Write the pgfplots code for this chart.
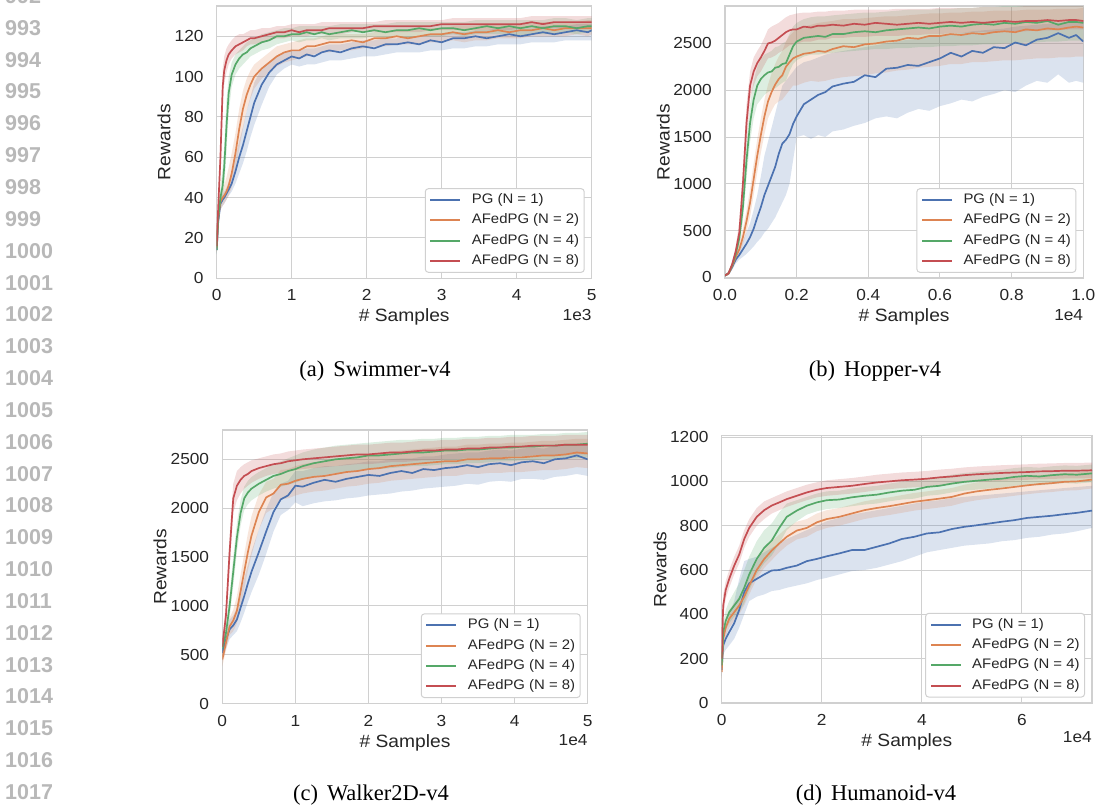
\documentclass[border=0pt]{standalone}
\usepackage{fontspec}
\setmainfont[FakeStretch=1.08, Color=262626]{Liberation Sans}
\newfontfamily\capfont{Liberation Serif}
\newfontfamily\lnfont[Color=B8B8B8]{Liberation Sans}
\usepackage{pgfplots}
\usepackage{pgfplotstable}
\pgfplotsset{compat=1.18}
\usepgfplotslibrary{fillbetween}

\definecolor{sblue}{HTML}{4C72B0}
\definecolor{sorange}{HTML}{DD8452}
\definecolor{sgreen}{HTML}{55A868}
\definecolor{sred}{HTML}{C44E52}
\definecolor{gridc}{HTML}{D0D0D0}

% columns: samples, then mean / lower / upper for N = 1, 2, 4, 8
\pgfplotstableread{
x    b   bl  bh  o   ol  oh  g   gl  gh  r   rl  rh
0.00 14  12  17  15  13  18  14  12  17  16  13  19
0.02 28  25  32  30  26  34  30  26  34  35  30  40
0.05 37  34  40  38  34  42  40  36  45  60  52  70
0.08 39  36  42  40  36  44  46  40  55  95  85  104
0.10 40  37  43  41  37  46  55  45  66  103 96  110
0.13 42  39  45  43  39  50  75  62  88  108 102 114
0.16 44  41  48  46  41  55  92  82  100 111 106 116
0.20 47  43  52  52  45  62  101 95  107 113 109 118
0.25 53  47  60  62  54  72  106 101 111 115 111 120
0.30 60  52  68  74  64  84  109 104 113 116 112 121
0.35 66  57  75  84  74  93  111 106 115 117 113 121
0.40 73  63  83  91  83  99  112 108 117 118 115 122
0.45 80  70  90  96  89  103 114 110 118 119 116 123
0.50 87  76  97  100 94  106 115 111 119 119 116 123
0.60 96  86  104 104 99  109 117 113 121 120 117 124
0.70 102 95  107 107 102 112 118 114 122 121 118 124
0.80 106 101 110 110 105 115 120 116 123 122 119 125
0.90 108 104 112 112 107 116 120 117 124 122 119 125
1.00 110 106 113 113 108 117 121 118 124 123 120 126
1.10 109 105 113 113 109 118 121 117 125 122 120 126
1.20 111 106 114 115 110 119 122 118 125 123 120 126
1.30 110 106 114 115 111 119 121 118 125 123 121 126
1.40 112 107 115 116 112 120 122 119 125 123 121 127
1.50 113 108 116 117 112 121 121 118 125 124 121 127
1.65 112 108 116 117 113 121 122 119 126 124 121 127
1.80 114 109 117 118 113 121 123 119 126 124 122 127
1.95 115 110 118 117 114 121 122 119 126 124 122 127
2.10 114 110 118 119 115 122 123 120 126 125 122 127
2.25 116 111 119 119 115 122 122 119 126 125 122 128
2.40 116 112 119 120 116 123 123 120 127 125 122 128
2.55 117 112 120 119 116 123 123 119 127 125 122 128
2.70 116 112 120 120 116 124 124 120 127 125 122 128
2.85 118 113 121 121 117 124 123 120 127 125 123 128
3.00 117 113 121 121 117 124 124 120 127 126 123 128
3.15 119 114 122 122 118 125 124 121 127 126 123 129
3.30 119 114 122 121 117 125 123 120 127 126 123 129
3.45 120 115 123 122 118 125 124 121 128 126 123 129
3.60 119 115 123 122 118 126 125 121 128 126 123 129
3.75 120 116 124 123 119 126 124 121 128 126 123 129
3.90 121 116 124 122 119 126 125 121 128 126 123 129
4.05 120 116 124 123 119 126 124 120 128 126 124 129
4.20 121 117 124 123 120 127 125 121 128 127 124 130
4.35 122 117 125 124 120 127 124 121 128 126 124 130
4.50 121 117 125 123 120 127 125 121 129 127 124 130
4.65 122 118 125 124 120 127 125 122 129 127 124 130
4.80 123 118 126 124 121 127 124 121 128 127 124 130
4.95 122 118 126 124 120 128 125 122 129 127 124 130
5.00 123 118 126 124 121 128 125 122 129 127 124 130
}\swim

\pgfplotstableread{
x    b    bl   bh   o    ol   oh   g    gl   gh   r    rl   rh
0.00 20   10   30   20   10   30   20   10   30   20   10   30
0.01 40   25   55   40   25   55   45   30   60   45   30   60
0.02 110  80   140  120  90   150  130  100  160  140  110  170
0.03 190  150  230  220  180  260  250  210  300  280  230  330
0.04 240  190  300  300  250  370  420  340  520  480  380  600
0.05 300  220  390  430  350  520  750  600  900  1000 850  1150
0.06 360  250  480  600  480  720  1250 1050 1450 1650 1450 1850
0.07 430  290  580  800  650  950  1650 1450 1850 2050 1900 2200
0.08 520  330  720  1050 880  1220 1900 1700 2100 2200 2050 2350
0.09 640  380  880  1300 1120 1480 2050 1850 2250 2290 2150 2420
0.10 750  420  1080 1520 1330 1700 2120 1900 2330 2350 2200 2480
0.11 880  480  1300 1720 1530 1900 2160 1950 2380 2420 2270 2560
0.12 980  520  1450 1880 1700 2060 2190 1980 2400 2500 2340 2650
0.13 1080 580  1600 1980 1780 2180 2200 2000 2420 2510 2350 2680
0.14 1180 640  1750 2060 1850 2280 2240 2020 2460 2530 2370 2700
0.15 1320 720  1900 2120 1880 2360 2250 2050 2470 2560 2400 2720
0.16 1430 800  2050 2160 1900 2420 2280 2080 2500 2590 2420 2750
0.17 1470 880  2100 2250 1950 2520 2290 2100 2520 2620 2450 2780
0.18 1530 1000 2150 2300 2000 2580 2380 2200 2600 2640 2480 2800
0.19 1640 1250 2200 2340 2050 2620 2470 2280 2680 2650 2490 2810
0.20 1720 1500 2250 2360 2050 2650 2520 2320 2720 2650 2500 2820
0.22 1850 1520 2300 2390 2080 2680 2560 2360 2760 2680 2520 2830
0.24 1900 1480 2320 2400 2100 2700 2570 2380 2780 2670 2520 2830
0.26 1950 1520 2350 2420 2090 2720 2580 2380 2790 2690 2540 2840
0.28 1980 1500 2380 2410 2100 2730 2570 2390 2790 2690 2540 2840
0.30 2040 1560 2400 2440 2120 2740 2600 2400 2800 2700 2560 2850
0.33 2070 1580 2420 2470 2140 2760 2600 2410 2810 2690 2560 2850
0.36 2090 1620 2440 2460 2150 2760 2620 2420 2820 2710 2570 2860
0.39 2160 1650 2460 2490 2160 2770 2630 2430 2830 2700 2570 2860
0.42 2140 1700 2480 2500 2180 2780 2620 2440 2830 2720 2580 2860
0.45 2230 1720 2500 2520 2190 2790 2640 2440 2840 2710 2580 2860
0.48 2240 1700 2520 2530 2210 2790 2650 2450 2850 2700 2580 2870
0.51 2270 1760 2540 2560 2220 2800 2660 2450 2860 2710 2590 2870
0.54 2260 1800 2550 2550 2240 2810 2670 2460 2860 2720 2590 2870
0.57 2300 1780 2570 2580 2250 2820 2660 2460 2860 2710 2600 2870
0.60 2340 1830 2580 2580 2260 2820 2680 2470 2870 2720 2600 2880
0.63 2400 1860 2600 2600 2280 2830 2690 2470 2870 2730 2610 2880
0.66 2360 1900 2610 2590 2280 2830 2680 2480 2880 2720 2610 2880
0.69 2420 1880 2630 2610 2300 2840 2700 2480 2880 2730 2620 2880
0.72 2400 1930 2640 2600 2300 2840 2710 2490 2890 2720 2620 2890
0.75 2460 1960 2650 2620 2310 2850 2700 2490 2890 2730 2620 2890
0.78 2450 2000 2660 2630 2320 2850 2720 2500 2900 2740 2630 2890
0.81 2510 1980 2680 2620 2320 2850 2710 2500 2900 2730 2630 2890
0.84 2480 2050 2690 2650 2330 2860 2730 2510 2900 2740 2630 2900
0.87 2540 2100 2700 2640 2340 2860 2720 2510 2900 2740 2640 2900
0.90 2560 2080 2710 2660 2340 2860 2740 2520 2910 2750 2640 2900
0.93 2610 2170 2720 2650 2350 2870 2700 2520 2910 2740 2640 2900
0.96 2560 2080 2730 2670 2350 2870 2730 2530 2910 2750 2650 2910
0.98 2590 2100 2730 2680 2360 2870 2730 2530 2910 2750 2650 2910
1.00 2520 2080 2740 2670 2360 2880 2720 2530 2920 2740 2650 2910
}\hopper

\pgfplotstableread{
x    b    bl   bh   o    ol   oh   g    gl   gh   r    rl   rh
0.00 520  440  600  450  380  520  560  480  640  580  500  660
0.05 650  560  740  620  540  700  720  640  800  900  780  1020
0.10 760  660  860  790  700  880  1000 880  1120 1550 1380 1720
0.15 800  700  900  850  740  960  1350 1200 1500 2100 1950 2250
0.20 860  740  980  950  820  1100 1700 1550 1850 2230 2080 2380
0.25 980  830  1140 1150 980  1320 1950 1820 2080 2290 2150 2420
0.30 1100 930  1280 1350 1170 1530 2100 1980 2220 2330 2200 2450
0.35 1230 1040 1420 1550 1360 1740 2160 2040 2280 2350 2230 2470
0.40 1350 1140 1560 1720 1520 1920 2200 2080 2320 2380 2260 2490
0.50 1550 1320 1780 1960 1780 2140 2250 2130 2370 2410 2300 2510
0.60 1760 1530 1990 2110 1950 2270 2290 2170 2410 2430 2330 2530
0.70 1960 1760 2160 2150 2000 2300 2330 2200 2450 2450 2350 2550
0.80 2090 1930 2250 2240 2090 2390 2350 2220 2480 2460 2360 2560
0.90 2130 1980 2280 2250 2100 2400 2380 2240 2510 2480 2380 2580
1.00 2230 2060 2380 2280 2130 2430 2400 2260 2540 2490 2390 2590
1.10 2220 2020 2380 2300 2150 2450 2430 2290 2570 2500 2400 2600
1.25 2260 2050 2410 2320 2170 2470 2460 2320 2600 2510 2410 2610
1.40 2290 2070 2430 2330 2180 2480 2480 2340 2620 2520 2420 2620
1.55 2270 2080 2430 2350 2200 2500 2500 2360 2640 2530 2430 2630
1.70 2300 2100 2450 2370 2220 2520 2510 2370 2650 2540 2440 2640
1.85 2320 2110 2460 2380 2230 2530 2520 2380 2660 2550 2450 2650
2.00 2340 2130 2480 2400 2250 2550 2540 2400 2670 2550 2450 2650
2.15 2330 2140 2480 2410 2260 2560 2540 2400 2680 2560 2460 2660
2.30 2360 2150 2500 2430 2280 2580 2550 2410 2690 2570 2470 2670
2.45 2380 2170 2510 2440 2290 2590 2560 2420 2700 2570 2470 2670
2.60 2360 2180 2510 2450 2300 2600 2570 2430 2700 2580 2480 2680
2.75 2400 2200 2530 2460 2310 2610 2570 2430 2710 2590 2490 2690
2.90 2390 2210 2530 2470 2320 2620 2580 2440 2710 2590 2490 2690
3.05 2410 2220 2550 2480 2330 2630 2590 2450 2720 2600 2500 2700
3.20 2420 2230 2560 2480 2330 2630 2590 2450 2720 2600 2500 2700
3.35 2440 2250 2570 2500 2350 2650 2600 2460 2730 2610 2510 2710
3.50 2420 2240 2570 2500 2350 2650 2600 2460 2730 2610 2510 2710
3.65 2450 2270 2590 2510 2360 2660 2610 2470 2740 2620 2520 2720
3.80 2460 2280 2600 2510 2360 2660 2620 2480 2740 2620 2520 2720
3.95 2440 2270 2590 2520 2370 2670 2620 2480 2750 2630 2530 2730
4.10 2470 2300 2610 2520 2370 2670 2630 2490 2750 2630 2530 2730
4.25 2480 2300 2620 2530 2380 2680 2630 2490 2750 2640 2540 2740
4.40 2460 2290 2610 2540 2390 2690 2640 2500 2760 2640 2540 2740
4.55 2500 2320 2640 2540 2390 2690 2640 2500 2760 2640 2540 2740
4.70 2510 2330 2650 2550 2400 2700 2650 2510 2770 2650 2550 2750
4.85 2540 2350 2660 2570 2420 2710 2650 2510 2770 2650 2550 2750
5.00 2500 2330 2650 2560 2410 2710 2660 2520 2780 2650 2550 2750
}\walker

\pgfplotstableread{
x    b    bl   bh   o    ol   oh   g    gl   gh   r    rl   rh
0.00 150  120  180  140  110  170  170  140  200  200  160  240
0.03 260  220  300  290  250  330  320  280  360  440  390  490
0.08 290  240  340  340  300  380  370  330  420  510  470  550
0.15 320  260  400  380  340  420  410  360  460  560  520  600
0.25 360  290  460  410  370  450  440  390  500  620  580  660
0.35 420  340  560  440  400  480  470  410  540  670  630  710
0.45 500  400  640  480  440  520  520  450  600  740  700  780
0.55 540  460  650  530  490  570  580  510  660  790  750  830
0.70 560  480  660  600  560  640  650  580  730  840  800  880
0.85 580  490  680  650  610  690  700  630  780  870  830  910
1.00 598  505  700  688  645  730  733  665  810  891  855  925
1.15 600  510  720  720  680  760  790  720  860  905  870  940
1.30 610  520  740  750  710  790  840  780  900  920  885  955
1.50 620  530  760  778  738  818  868  820  915  935  900  970
1.70 640  540  780  790  750  830  890  850  930  950  915  985
1.90 650  555  800  815  775  855  905  865  945  962  928  996
2.10 662  565  820  830  790  870  915  875  955  970  935  1005
2.35 675  580  835  840  800  880  918  880  958  975  940  1010
2.60 690  595  850  855  815  895  928  888  968  980  945  1015
2.85 690  600  860  870  830  910  935  895  975  988  952  1022
3.10 705  610  870  880  840  920  940  900  980  995  960  1030
3.35 720  625  880  888  848  928  950  910  990  1000 965  1035
3.60 740  640  890  898  858  938  958  918  998  1005 970  1040
3.85 750  660  900  908  868  948  962  922  1002 1008 973  1043
4.10 765  680  910  915  875  955  975  935  1015 1012 977  1047
4.35 770  690  915  922  882  962  980  940  1020 1018 983  1053
4.60 785  700  925  930  890  970  990  950  1030 1022 987  1057
4.85 795  710  930  945  905  985  998  958  1038 1028 993  1063
5.10 802  715  935  955  915  995  1003 963  1043 1032 997  1067
5.35 810  720  940  962  922  1002 1008 968  1048 1035 1000 1070
5.60 818  730  945  968  928  1008 1012 972  1052 1038 1003 1073
5.85 825  735  950  975  935  1015 1020 980  1060 1040 1005 1075
6.10 835  745  955  982  942  1022 1025 985  1065 1042 1007 1077
6.35 840  750  960  988  948  1028 1022 982  1062 1045 1010 1080
6.60 845  760  965  992  952  1032 1028 988  1068 1046 1011 1081
6.85 852  765  970  998  958  1038 1032 992  1072 1048 1013 1083
7.10 858  775  975  1000 960  1040 1030 990  1070 1048 1013 1083
7.40 868  790  980  1008 968  1048 1036 996  1076 1050 1015 1085
}\humanoid

\pgfplotsset{
  sns/.style={
    scale only axis, anchor=south west,
    axis line style={draw=gridc, line width=1.3pt},
    grid=major, major grid style={draw=gridc, line width=1pt},
    major tick length=0pt, tick style={draw=none},
    ticklabel style={font=\fontsize{16}{18}\selectfont, inner sep=0pt},
    xticklabel style={anchor=base, yshift=-22.5pt},
    yticklabel style={anchor=east, xshift=-13pt},
    label style={font=\fontsize{17.8}{20}\selectfont},
    xlabel={\# Samples}, ylabel={Rewards},
    xlabel style={at={(axis description cs:0.5,0)}, anchor=base, yshift=-43.5pt},
    /pgf/number format/assume math mode=true,
    /pgf/number format/1000 sep={},
    scaled ticks=false,
    clip mode=individual,
    no markers,
    legend cell align=left,
    legend style={at={(rel axis cs:1,0)}, anchor=south east, xshift=-7pt, yshift=5.5pt,
      draw=gridc, line width=1pt, rounded corners=3pt, fill=white,
      font=\fontsize{13.8}{16}\selectfont,
      inner xsep=5pt, inner ysep=5pt, row sep=7.2pt,
      nodes={inner sep=0pt, text height=10pt, text depth=3pt},
      /tikz/every odd column/.append style={column sep=11.6pt}},
    legend image code/.code={%
      \fill[#1, draw=none, rounded corners=0pt] (0pt,-1pt) rectangle (30pt,1pt);},
  },
  mline/.style={line width=1.7pt, line join=round},
}

% band between lower and upper columns
\newcommand{\band}[4]{%
  \addplot[name path=#2, draw=none, forget plot] table[x=x, y=#2]{#1};
  \addplot[name path=#3, draw=none, forget plot] table[x=x, y=#3]{#1};
  \addplot[fill=#4, fill opacity=0.2, draw=none, forget plot] fill between[of=#2 and #3];
}
\newcommand{\allseries}[1]{%
  \band{#1}{bl}{bh}{sblue}
  \band{#1}{ol}{oh}{sorange}
  \band{#1}{gl}{gh}{sgreen}
  \band{#1}{rl}{rh}{sred}
  \addplot[sblue, mline, forget plot] table[x=x, y=b]{#1};
  \addplot[sorange, mline, forget plot] table[x=x, y=o]{#1};
  \addplot[sgreen, mline, forget plot] table[x=x, y=g]{#1};
  \addplot[sred, mline, forget plot] table[x=x, y=r]{#1};
  \addlegendimage{fill=sblue}
  \addlegendentry{PG (N = 1)}
  \addlegendimage{fill=sorange}
  \addlegendentry{AFedPG (N = 2)}
  \addlegendimage{fill=sgreen}
  \addlegendentry{AFedPG (N = 4)}
  \addlegendimage{fill=sred}
  \addlegendentry{AFedPG (N = 8)}
}
\newcommand{\offset}[2]{%
  \node[anchor=base east, inner sep=0pt, font=\fontsize{16}{18}\selectfont]
    at ([yshift=-#2]rel axis cs:1,0) {#1};
}

\begin{document}
\begin{tikzpicture}

% line numbers of the page
\foreach \n in {992,...,1017} {
  \pgfmathsetmacro\yy{-35.3-(\n-993)*31.84}
  \node[anchor=base west, inner sep=0pt,
        font=\lnfont\bfseries\fontsize{21.5}{22}\selectfont] at (5pt,\yy pt) {\n};
}

% (a) Swimmer
\begin{axis}[sns, at={(216.7pt,-278.3pt)}, width=375pt, height=272.3pt,
  xmin=0, xmax=5, ymin=0, ymax=135,
  xtick={0,1,2,3,4,5}, ytick={0,20,40,60,80,100,120},
  ylabel style={at={([xshift=-52.7pt]axis description cs:0,0.5)}, anchor=center}]
\allseries{\swim}
\offset{1e3}{42.5pt}
\end{axis}

% (b) Hopper
\begin{axis}[sns, at={(725pt,-278.3pt)}, width=358.3pt, height=272.3pt,
  xmin=0, xmax=1, ymin=-10, ymax=2900,
  xtick={0,0.2,0.4,0.6,0.8,1.0}, ytick={0,500,1000,1500,2000,2500},
  x tick label style={/pgf/number format/fixed, /pgf/number format/fixed zerofill,
    /pgf/number format/precision=1},
  ylabel style={at={([xshift=-61.7pt]axis description cs:0,0.5)}, anchor=center}]
\allseries{\hopper}
\offset{1e4}{42pt}
\end{axis}

% (c) Walker2D
\begin{axis}[sns, at={(222.3pt,-703.5pt)}, width=365.4pt, height=273.5pt,
  xmin=0, xmax=5, ymin=0, ymax=2800,
  xtick={0,1,2,3,4,5}, ytick={0,500,1000,1500,2000,2500},
  ylabel style={at={([xshift=-62.3pt]axis description cs:0,0.5)}, anchor=center}]
\allseries{\walker}
\offset{1e4}{41.5pt}
\end{axis}

% (d) Humanoid
\begin{axis}[sns, at={(721.7pt,-703pt)}, width=370.3pt, height=267.3pt,
  xmin=0, xmax=7.4, ymin=0, ymax=1206,
  xtick={0,2,4,6}, ytick={0,200,400,600,800,1000,1200},
  ylabel style={at={([xshift=-61.7pt]axis description cs:0,0.5)}, anchor=center}]
\allseries{\humanoid}
\offset{1e4}{39pt}
\end{axis}

% sub-captions
\begin{scope}[every node/.style={anchor=base, inner sep=0pt,
    font=\capfont\fontsize{22.5}{24}\selectfont}]
\node at (375pt,-376pt) {(a)\hspace{9pt}Swimmer-v4};
\node at (875pt,-376pt) {(b)\hspace{9pt}Hopper-v4};
\node at (371pt,-800pt) {(c)\hspace{9pt}Walker2D-v4};
\node at (876pt,-800pt) {(d)\hspace{9pt}Humanoid-v4};
\end{scope}

% page region shown
\pgfresetboundingbox
\path[use as bounding box] (0pt,0pt) rectangle (1098pt,-804pt);
\end{tikzpicture}
\end{document}
